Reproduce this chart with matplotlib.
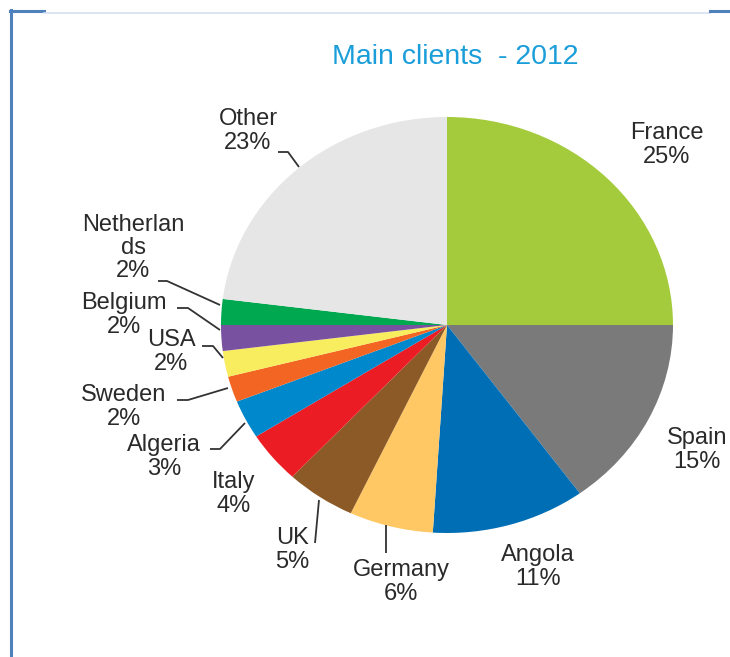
import numpy as np
import matplotlib.pyplot as plt
from matplotlib.lines import Line2D

plt.rcParams['font.family'] = ['Liberation Sans', 'DejaVu Sans']

# data
countries = ['France', 'Spain', 'Angola', 'Germany', 'UK', 'Italy', 'Algeria',
             'Sweden', 'USA', 'Belgium', 'Netherlan\nds', 'Other']
shares = [25, 15, 11, 6, 5, 4, 3, 2, 2, 2, 2, 23]
colors = ['#A4CB3C', '#7A7A7A', '#006EB4', '#FFC864', '#8B5A26', '#EC1C24',
          '#0088CC', '#F26522', '#F8EC5F', '#7851A0', '#00A850', '#E6E6E6']

# layout (pixels): label centre, leader line points
label_pos = [(667, 145), (697, 450), (538, 567), (401, 582), (292, 550), (234, 494),
             (164, 457), (124, 407), (171, 352), (124, 315), (133, 248), (248, 131)]
leaders = [None, None, None,
           [(386, 553), (386, 525)],
           [(315, 543), (319, 500)],
           None,
           [(210, 449), (220, 449), (245, 423)],
           [(177, 400), (188, 400), (228, 388)],
           [(202, 346), (213, 346), (223, 358)],
           [(177, 308), (188, 308), (220, 330)],
           [(158, 281), (167, 281), (220, 305)],
           [(278, 152), (288, 152), (299, 167)]]

W, H = 730, 657
cx, cy, rx, ry = 447, 325, 226, 208

fig = plt.figure(figsize=(W / 100, H / 100), dpi=100)
ax = fig.add_axes([0, 0, 1, 1])
ax.axis('off')


def px(p):
    return ((p[0] - cx) / rx, (cy - p[1]) / ry)


ax.pie(shares, colors=colors, startangle=90, counterclock=False, radius=1,
       wedgeprops=dict(linewidth=0))
ax.set_xlim((0 - cx) / rx, (W - cx) / rx)
ax.set_ylim((cy - H) / ry, (cy - 0) / ry)
ax.set_aspect('auto')

for name, val, pos, ld in zip(countries, shares, label_pos, leaders):
    x, y = px(pos)
    ax.text(x, y, '%s\n%d%%' % (name, val), ha='center', va='center',
            fontsize=17, color='#2a2a2a', linespacing=1.08)
    if ld:
        pts = np.array([px(p) for p in ld])
        ax.plot(pts[:, 0], pts[:, 1], color='#333333', lw=1.3, solid_capstyle='butt')

fig.text(455 / W, 1 - 57 / H, 'Main clients  - 2012', ha='center', va='center',
         fontsize=20.5, color='#1A9ED9')

# frame lines
fig.add_artist(Line2D([11 / W, 11 / W], [0, 1 - 10 / H], color='#4F81BD', lw=2.2))
fig.add_artist(Line2D([10 / W, 44 / W], [1 - 11 / H, 1 - 11 / H], color='#4F81BD', lw=2.2))
fig.add_artist(Line2D([44 / W, 710 / W], [1 - 12.5 / H, 1 - 12.5 / H], color='#D6E0F2', lw=1.2))
fig.add_artist(Line2D([710 / W, 1], [1 - 11 / H, 1 - 11 / H], color='#4F81BD', lw=2.2))

fig.savefig('out.png', dpi=100)
